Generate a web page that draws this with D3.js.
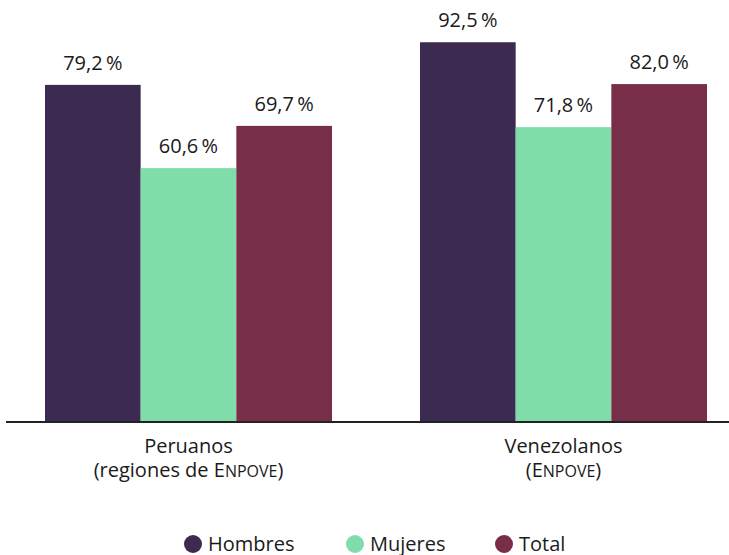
<!DOCTYPE html>
<html>
<head>
<meta charset="utf-8">
<script src="https://cdn.jsdelivr.net/npm/d3@7"></script>
<style>
  body { margin: 0; background: #fff; }
  text { font-family: "Open Sans", sans-serif; fill: #1a1a1a; }
</style>
</head>
<body>
<div id="chart"></div>
<script>
// groups and series
var groups = ["Peruanos", "Venezolanos"];
var groupLine2 = ["(regiones de ", "("];
var series = ["Hombres", "Mujeres", "Total"];
var colors = ["#3c2a51", "#80dca8", "#782e48"];

// bar heights as drawn, and the printed labels
var peruanos = [82.1, 61.8, 72.1];
var venezolanos = [92.5, 71.8, 82.3];
var peruanosLabels = ["79,2", "60,6", "69,7"];
var venezolanosLabels = ["92,5", "71,8", "82,0"];

var values = [peruanos, venezolanos];
var labels = [peruanosLabels, venezolanosLabels];

var width = 729, height = 555;

var svg = d3.select("#chart")
  .append("svg")
  .attr("width", width)
  .attr("height", height);

var x0 = d3.scaleBand()
  .domain(groups)
  .range([45, 707])
  .paddingInner(0.2347)
  .paddingOuter(0);

var x1 = d3.scaleBand()
  .domain(series)
  .range([0, x0.bandwidth()])
  .padding(0);

var y = d3.scaleLinear()
  .domain([0, 100])
  .range([421.5, 11.5]);

var g = svg.selectAll("g.group")
  .data(groups)
  .enter().append("g")
    .attr("class", "group")
    .attr("transform", function(d) { return "translate(" + x0(d) + ",0)"; });

function rows(d, i) {
  return series.map(function(s, j) {
    return {s: s, v: values[i][j], label: labels[i][j], c: colors[j]};
  });
}

g.selectAll("rect")
  .data(rows)
  .enter().append("rect")
    .attr("x", function(d) { return x1(d.s); })
    .attr("y", function(d) { return y(d.v); })
    .attr("width", x1.bandwidth())
    .attr("height", function(d) { return y(0) - y(d.v); })
    .attr("fill", function(d) { return d.c; });

g.selectAll("text.val")
  .data(rows)
  .enter().append("text")
    .attr("class", "val")
    .attr("x", function(d) { return x1(d.s) + x1.bandwidth() / 2; })
    .attr("y", function(d) { return y(d.v) - 15; })
    .attr("text-anchor", "middle")
    .style("font-size", "20px")
    .text(function(d) { return d.label + "\u2009%"; });

// baseline
svg.append("line")
  .attr("x1", 6)
  .attr("x2", width)
  .attr("y1", y(0) + 0.5)
  .attr("y2", y(0) + 0.5)
  .attr("stroke", "#222")
  .attr("stroke-width", 2);

// category labels, two lines
svg.selectAll("text.cat")
  .data(groups)
  .enter().append("text")
    .attr("class", "cat")
    .attr("text-anchor", "middle")
    .style("font-size", "20px")
    .attr("x", function(d) { return x0(d) + x0.bandwidth() / 2; })
    .attr("y", 453)
    .text(function(d) { return d; });

var line2 = svg.selectAll("text.cat2")
  .data(groups)
  .enter().append("text")
    .attr("class", "cat2")
    .attr("text-anchor", "middle")
    .style("font-size", "20px")
    .attr("x", function(d) { return x0(d) + x0.bandwidth() / 2; })
    .attr("y", 476.5);

line2.append("tspan")
  .text(function(d, i) { return groupLine2[i] + "E"; });
line2.append("tspan")
  .style("font-size", "16px")
  .text("NPOVE");
line2.append("tspan")
  .text(")");

// legend
var legendX = [193, 355, 504];
var legend = svg.selectAll("g.legend")
  .data(series)
  .enter().append("g")
    .attr("class", "legend")
    .attr("transform", function(d, i) { return "translate(" + legendX[i] + ",544)"; });

legend.append("circle")
  .attr("r", 9)
  .attr("fill", function(d, i) { return colors[i]; });

legend.append("text")
  .attr("x", 15)
  .attr("y", 7)
  .style("font-size", "20px")
  .text(function(d) { return d; });
</script>
</body>
</html>
